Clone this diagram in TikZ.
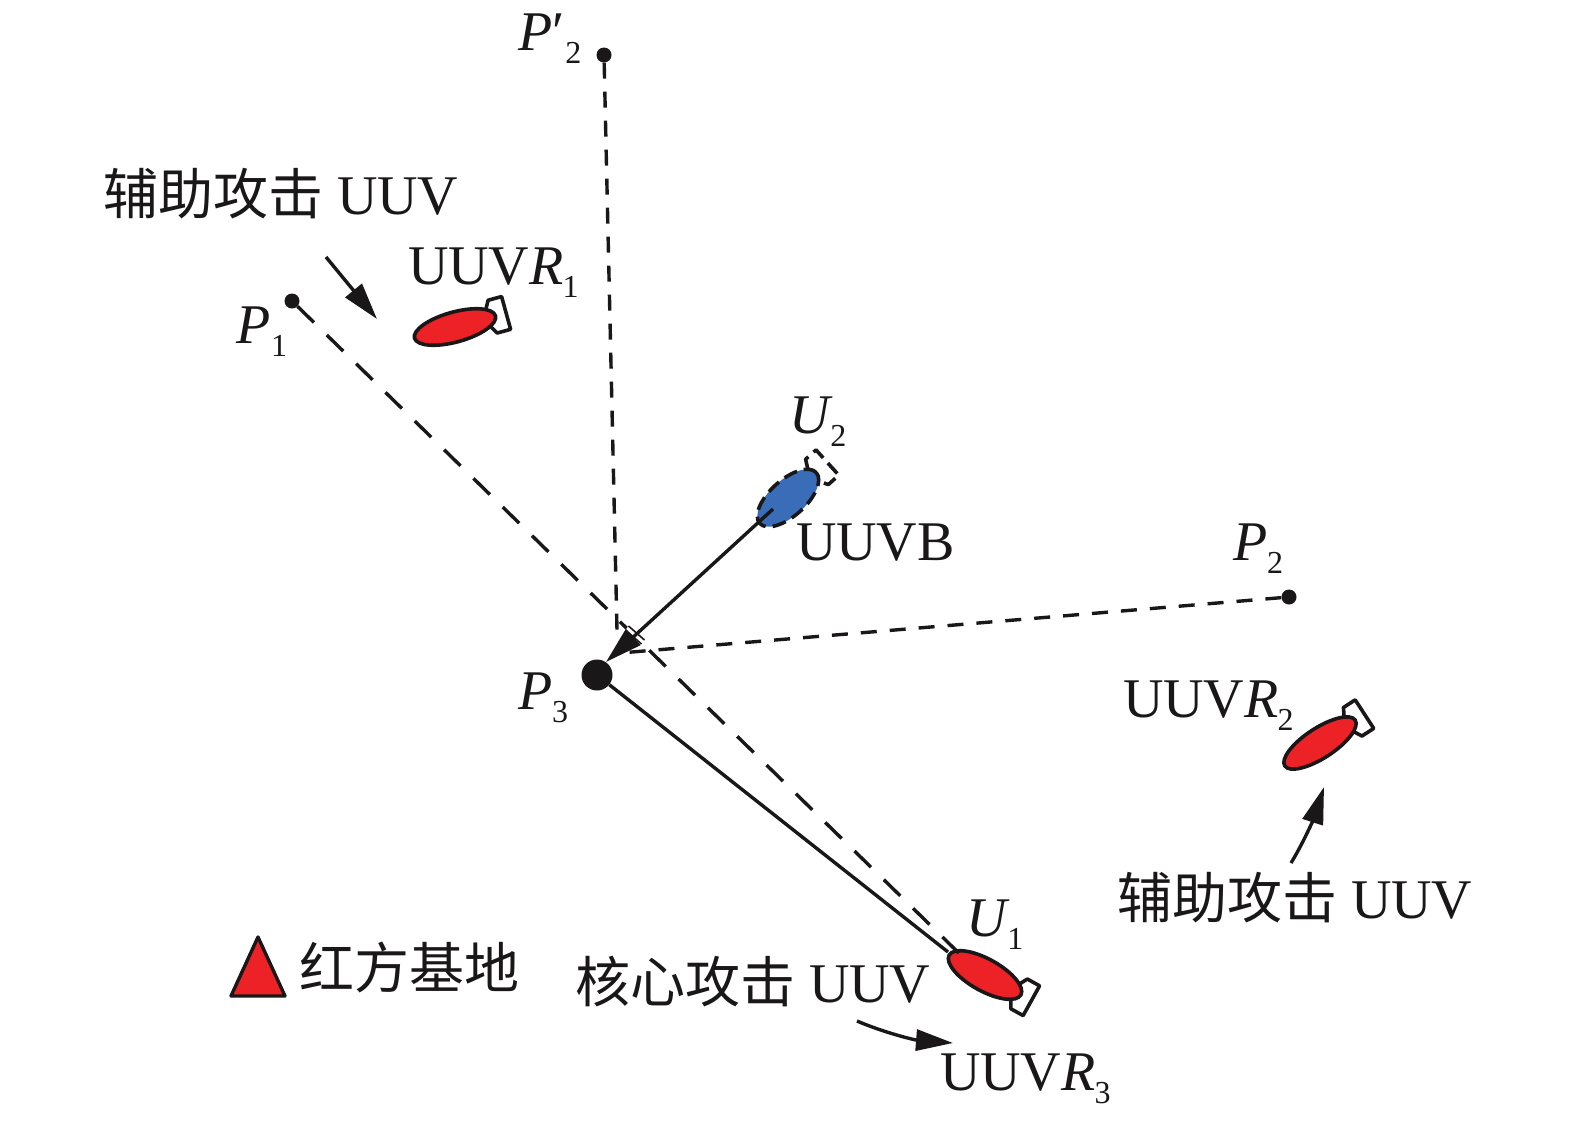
\documentclass[tikz,border=0pt]{standalone}
\usepackage{fontspec}
\setmainfont{Liberation Serif}
\newfontfamily\cjk{Noto Sans CJK SC}
\usetikzlibrary{arrows.meta}
\definecolor{redfill}{HTML}{ED2227}
\definecolor{bluefill}{HTML}{3A6DB8}
\definecolor{ink}{HTML}{1A1718}
\newcommand{\subn}[1]{\raisebox{-13pt}{\fontsize{32}{32}\selectfont #1}}
\newcommand{\zh}[1]{{\cjk\fontsize{55}{55}\selectfont #1}}
\tikzset{
  x=1pt,y=-1pt,
  lab/.style={anchor=base west,inner sep=0pt,outer sep=0pt,text=ink,font=\fontsize{56}{56}\selectfont},
  solidline/.style={draw=ink,line width=3.4pt},
  dashline/.style={draw=ink,line width=3.4pt,dash pattern=on 16pt off 13pt},
  longdash/.style={draw=ink,line width=3.4pt,dash pattern=on 23pt off 18pt},
  tip/.style={-{Triangle[length=37pt,width=21pt]}},
  smalldot/.style={circle,fill=ink,inner sep=0pt,minimum size=15pt},
  bigdot/.style={circle,fill=ink,inner sep=0pt,minimum size=31pt},
  pics/uuv/.style n args={4}{code={
    \draw[#2,line width=3.6pt,fill=white,line join=round] (34,-8) -- (39,-17) -- (53,-17) -- (53,17) -- (39,17) -- (34,8);
    \path[fill=#1] (0,0) ellipse [x radius=#4,y radius=#3];
    \draw[#2,line width=3.6pt] (0,0) ellipse [x radius=#4,y radius=#3];
  }}
}
\begin{document}
\begin{tikzpicture}
\useasboundingbox (0,0) rectangle (1575,1122);
% points
\node[smalldot] (Pp2) at (604,55) {};
\node[smalldot] (P1) at (292,301) {};
\node[smalldot] (P2) at (1289,597) {};
\node[bigdot] (P3) at (597,675) {};
\coordinate (Uone) at (969,963);
\coordinate (Uonestart) at (948,952);
\coordinate (Utwostart) at (773,509);
\coordinate (Vend) at (617,630);
\coordinate (Hend) at (620,653);
\coordinate (Tip) at (606,662);
% vehicles
\pic at (455,327) [rotate=15.4] {uuv={redfill}{ink}{15}{42}};
\pic at (1320,743) [rotate=33] {uuv={redfill}{ink}{15}{42}};
\pic at (985,975) [rotate=-29] {uuv={redfill}{ink}{16}{41}};
\pic at (788,498) [rotate=42] {uuv={bluefill}{ink,dash pattern=on 14pt off 7pt}{18}{38}};
% dashed lines
\draw[dashline] (Pp2) -- (Vend);
\draw[dashline] (P2) -- (Hend);
\draw[longdash] (P1) -- (Uone);
\coordinate (Ta) at (627,628);
\coordinate (Tb) at (643,642);
% solid lines
\draw[solidline] (P3) -- (Uonestart);
\draw[draw=white,line width=7pt] (Ta) -- (Tb);
\draw[solidline,tip] (Utwostart) -- (Tip);
\draw[ink,line width=1.6pt] ([xshift=-1.5pt,yshift=-2pt]Ta) -- ([xshift=-1.5pt,yshift=-2pt]Tb);
\draw[ink,line width=1.6pt] ([xshift=1.5pt,yshift=2pt]Ta) -- ([xshift=1.5pt,yshift=2pt]Tb);
% labels
\node[lab] (tPp2) at (518,50) {\textit{P}′\kern1pt\subn{2}};
\node[lab] (tR1) at (408,284) {UUV\textit{R}\kern-1pt\subn{1}};
\node[lab] (tP1) at (236,343) {\textit{P}\kern1pt\subn{1}};
\node[lab] (tU2) at (789,433) {\textit{U}\kern-2pt\subn{2}};
\node[lab] (tB) at (796,560) {UUVB};
\node[lab] (tP2) at (1233,560) {\textit{P}\subn{2}};
\node[lab] (tP3) at (518,709) {\textit{P}\subn{3}};
\node[lab] (tR2) at (1123,717) {UUV\textit{R}\kern-1pt\subn{2}};
\node[lab] (tU1) at (966,936) {\textit{U}\kern-2pt\subn{1}};
\node[lab] (tR3) at (940,1090) {UUV\textit{R}\kern-1pt\subn{3}};
\node[lab] (tA1) at (103,214) {\zh{辅助攻击} UUV};
\node[lab] (tA2) at (1117,918) {\zh{辅助攻击} UUV};
\node[lab] (tC) at (575,1002) {\zh{核心攻击} UUV};
\node[lab] (tBase) at (299,988) {\zh{红方基地}};
% base triangle
\coordinate (B1) at (231,996);
\coordinate (B2) at (285,996);
\coordinate (B3) at (258,937);
\draw[ink,line width=3.4pt,fill=redfill,line join=round] (B1) -- (B2) -- (B3) -- cycle;
% callout arrows
\coordinate (A1s) at (326,257);
\coordinate (A1e) at (377,319);
\coordinate (A2s) at (1291,863);
\coordinate (A2e) at (1324,787);
\coordinate (A3s) at (857,1021);
\coordinate (A3e) at (953,1043);
\draw[solidline,tip] (A1s) -- (A1e);
\draw[solidline,tip] (A2s) .. controls (1305,840) and (1315,815) .. (A2e);
\draw[solidline,tip] (A3s) .. controls (885,1033) and (915,1040) .. (A3e);
\end{tikzpicture}
\end{document}
